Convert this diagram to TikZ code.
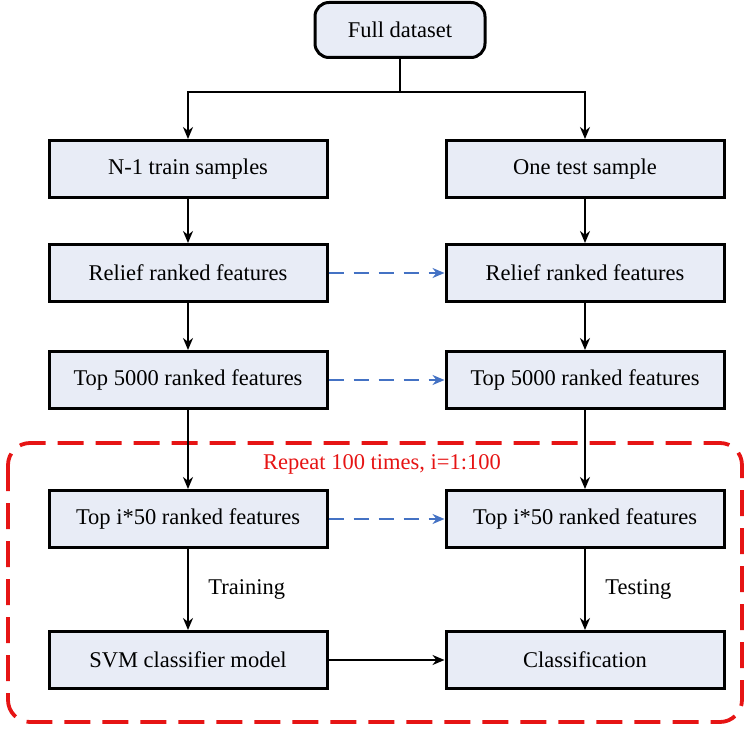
\documentclass[tikz,border=0pt]{standalone}
\usepackage{fontspec}
\setmainfont{Liberation Serif}
\usetikzlibrary{arrows.meta}
\definecolor{boxfill}{RGB}{232,236,246}
\definecolor{dashblue}{RGB}{68,114,196}
\definecolor{loopred}{RGB}{230,20,20}
\tikzset{
  box/.style={draw, line width=3pt, fill=boxfill, minimum width=278pt, minimum height=57pt, font=\fontsize{22.5}{27}\selectfont},
  rbox/.style={box, rounded corners=14pt, minimum width=170pt, minimum height=55pt},
  arr/.style={-{Stealth[length=12pt,width=10pt]}, line width=2.2pt},
  dasharr/.style={arr, dashblue, dash pattern=on 15pt off 10pt},
}
\begin{document}
\begin{tikzpicture}[x=1pt,y=-1pt]
    \useasboundingbox (0,0) rectangle (750,738);

    % repeat loop
    \draw[loopred, line width=3.8pt, dash pattern=on 26pt off 12pt, rounded corners=22pt] (8,443) rectangle (742,722);
    \node[text=loopred, font=\fontsize{22.5}{27}\selectfont] (rep) at (382,464) {Repeat 100 times, i=1:100};

    \node[rbox] (full) at (400,30) {Full dataset};

    \node[box] (train) at (188,169) {N-1 train samples};
    \node[box] (test) at (585,169) {One test sample};
    \node[box] (rel1) at (188,273) {Relief ranked features};
    \node[box] (rel2) at (585,273) {Relief ranked features};
    \node[box] (top1) at (188,380) {Top 5000 ranked features};
    \node[box] (top2) at (585,380) {Top 5000 ranked features};
    \node[box] (sel1) at (188,519) {Top i*50 ranked features};
    \node[box] (sel2) at (585,519) {Top i*50 ranked features};
    \node[box] (svm) at (188,660) {SVM classifier model};
    \node[box] (cls) at (585,660) {Classification};

    % split
    \coordinate (mid) at (400,92);
    \draw[line width=2.2pt] (full) -- (mid);
    \draw[arr] (mid) -| (train);
    \draw[arr] (mid) -| (test);

    \draw[arr] (train) -- (rel1);
    \draw[arr] (test) -- (rel2);
    \draw[arr] (rel1) -- (top1);
    \draw[arr] (rel2) -- (top2);
    \draw[arr] (top1) -- (sel1);
    \draw[arr] (top2) -- (sel2);
    \draw[arr] (sel1) -- node[right=16pt, font=\fontsize{22.5}{27}\selectfont] {Training} (svm);
    \draw[arr] (sel2) -- node[right=16pt, font=\fontsize{22.5}{27}\selectfont] {Testing} (cls);
    \draw[arr] (svm) -- (cls);

    \draw[dasharr] (rel1) -- (rel2);
    \draw[dasharr] (top1) -- (top2);
    \draw[dasharr] (sel1) -- (sel2);
\end{tikzpicture}
\end{document}
